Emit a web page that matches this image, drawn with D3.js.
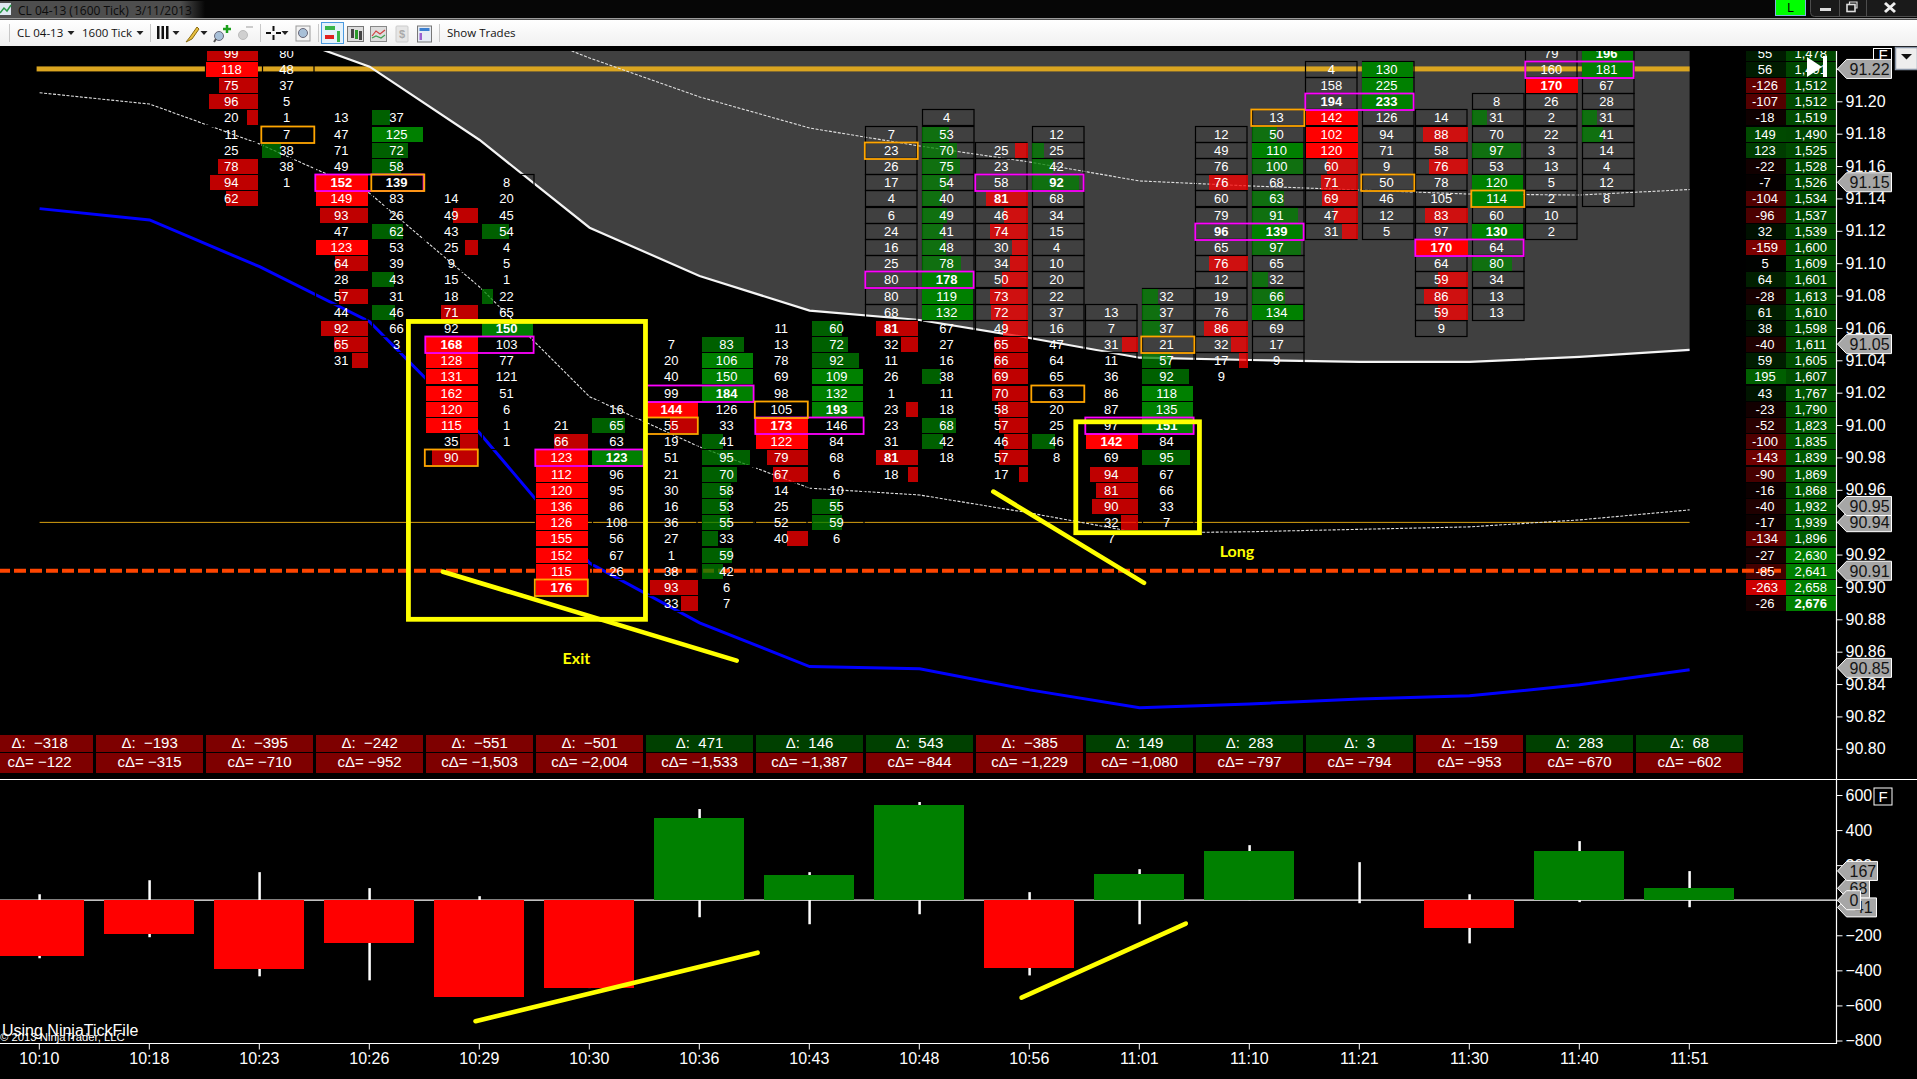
<!DOCTYPE html>
<html>
<head>
<meta charset="utf-8">
<script src="https://d3js.org/d3.v7.min.js"></script>
<style>
html,body{margin:0;padding:0;background:#000;overflow:hidden}
svg{display:block}
text{font-family:"Liberation Sans",Arial,sans-serif;white-space:pre}
</style>
</head>
<body>
<svg id="c" width="1917" height="1079"></svg>
<script>
// ---------- DATA ----------
const times = ["10:10","10:18","10:23","10:26","10:29","10:30","10:36","10:43","10:48","10:56","11:01","11:10","11:21","11:30","11:40","11:51"];
const delta = [-318,-193,-395,-242,-551,-501,471,146,543,-385,149,283,3,-159,283,68];
const cumDelta = [-122,-315,-710,-952,-1503,-2004,-1533,-1387,-844,-1229,-1080,-797,-794,-953,-670,-602];
const wickHigh = [34,114,160,69,23,0,520,160,560,46,177,314,217,34,337,166];
const wickLow = [-331,-211,-434,-457,-551,-501,-97,-137,-80,-429,-137,0,-17,-246,-11,-40];

const priceTicks = [91.22,91.20,91.18,91.16,91.14,91.12,91.10,91.08,91.06,91.04,91.02,91.00,90.98,90.96,90.94,90.92,90.90,90.88,90.86,90.84,90.82,90.80];
const deltaTicks = [600,400,200,0,-200,-400,-600,-800];
const priceFlags = [90.85,90.91,90.94,90.95,91.05,91.15];
const lastFlag = 91.22;
const deltaFlags = [-41,68,167,0];

const whileLineIdx = [2,3,4,5,6,7,8,9,10,11,12,13,14,15];
const whiteBand = [91.2459,91.2214,91.1761,91.1219,91.0921,91.0707,91.0649,91.0538,91.0416,91.0402,91.039,91.039,91.0421,91.0464];
const upperDotIdx = [4,5,6,7,8,9,10,11,12,13,14,15];
const upperDot = [91.2539,91.2267,91.2027,91.1835,91.1724,91.1625,91.1508,91.1477,91.1452,91.1427,91.1421,91.1455];
const lowerDot = [91.2053,91.1983,91.1736,91.1432,91.0853,91.0175,90.9865,90.961,90.9568,90.9457,90.9333,90.9341,90.9356,90.9371,90.9414,90.9476];
const blueLine = [91.1337,91.1267,91.0978,91.0639,90.9951,90.9148,90.8778,90.8508,90.8494,90.8364,90.8253,90.8277,90.8308,90.8327,90.8395,90.8488];

const goldLevel = 91.22, thinLevel = 90.94, dashLevel = 90.91;

// footprint: first price of each bar, then bid / ask volumes, one per tick going down.
// "*" = shaded volume bar, "!" = bold figure
const fpBars = [2,3,4,5,6,7,8,9,10,11,12,13,14];
const fpTop = [91.23,91.19,91.15,91.01,91.05,91.06,91.19,91.18,91.08,91.19,91.22,91.20,91.23];
const bid1023 = ["99*","118*","75*","96*","20*","11","25","78*","94*","62*"];
const ask1023 = ["80","48","37","5","1","7","38*","38","1",null];
const bid1026 = ["13","47","71","49","152*!","149*","93*","47","123*","64*","28","57*","44","92*","65*","31*"];
const ask1026 = ["37*","125*","72*","58*","139!","83","26","62*","53","39","43*","31","46*","66","3",null];
const bid1029 = [null,"14","49*","43","25*","9","15","18","71*","92","168*!","128*","131*","162*","120*","115*","35*","90*"];
const ask1029 = ["8","20","45","54*","4","5","1","22*","65","150*!","103","77","121","51","6","1","1",null];
const bid1030 = [null,"21","66*","123*","112*","120*","136*","126*","155*","152*","115*","176*!"];
const ask1030 = ["16","65*","63","123*!","96","95","86","108","56","67","26",null];
const bid1036 = ["7","20","40","99","144*!","55*","19","51","21","30","16","36","27","1","38","93*","33*"];
const ask1036 = ["83*","106*","150*","184*!","126","33","41*","95*","70*","58*","53*","55*","33*","59*","42*","6","7"];
const bid1043 = ["11","13","78","69","98","105","173*!","122*","79*","67*","14","25","52","40*"];
const ask1043 = ["60*","72*","92*","109*","132*","193*!","146","84","68","6","10","55*","59*","6"];
const bid1048 = [null,"7","23","26","17","4","6","24","16","25","80","80","68","81*!","32*","11","26","1","23*","23","31","81*!","18*"];
const ask1048 = ["4","53*","70*","75*","54*","40*","49*","41*","48*","78*","178*!","119*","132*","67","27","16","38*","11","18","68*","42*","18",null];
const bid1056 = [null,"25*","23","58","81*!","46*","74*","30*","34*","50*","73*","72*","49*","65*","66*","69*","70*","58*","57*","46*","57*","17*"];
const ask1056 = ["12","25*","42*","92*!","68","34","15","4","10","20","22","37","16","47","64","65","63","20","25","46*","8",null];
const bid1101 = [null,"13","7","31*","11","36","86","87","97","142*!","69","94*","81*","90*","32*","7"];
const ask1101 = ["32*","37*","37*","21","57*","92*","118*","135*","151*!","84","95*","67","66","33","7",null];
const bid1110 = [null,"12","49","76","76*","60","79","96!","65","76*","12","19","76","86*","32*","17*","9"];
const ask1110 = ["13","50*","110*","100*","68","63*","91*","139*!","97*","65","32*","66*","134*","69","17","9",null];
const bid1121 = ["4","158","194!","142*","102*","120*","60*","71*","69*","47*","31*"];
const ask1121 = ["130*","225*","233*!","126","94","71","9","50","46","12","5"];
const bid1130 = [null,"14","88*","58","76*","78","105","83*","97","170*!","64","59*","86*","59*","9"];
const ask1130 = ["8","31*","70","97*","53","120*","114*","60","130*!","64","80*","34","13","13",null];
const bid1140 = ["79","160","170*!","26","2","22","3","13","5","2","10","2"];
const ask1140 = ["196*!","181*","67","28","31*","41*","14","4","12","8",null,null];
const fpBids = [bid1023,bid1026,bid1029,bid1030,bid1036,bid1043,bid1048,bid1056,bid1101,bid1110,bid1121,bid1130,bid1140];
const fpAsks = [ask1023,ask1026,ask1029,ask1030,ask1036,ask1043,ask1048,ask1056,ask1101,ask1110,ask1121,ask1130,ask1140];

const pocIdx = [3,4,5,6,7,8,9,10,11,12,13,14];
const pocPrice = [91.15,91.05,90.98,91.02,91.00,91.09,91.15,91.00,91.12,91.20,91.11,91.22];
const hiIdx = [2,3,4,5,6,7,8,9,10,11,12,13];
const hiPrice = [91.18,91.15,90.98,90.90,91.00,91.01,91.17,91.02,91.05,91.19,91.15,91.14];
const hiSide = ["a","a","b","b","b","b","b","a","a","a","a","a"];

// right-hand profile, from the top price down
const profileTop = 91.23;
const profileDelta = [55,56,-126,-107,-18,149,123,-22,-7,-104,-96,32,-159,5,64,-28,61,38,-40,59,195,43,-23,-52,-100,-143,-90,-16,-40,-17,-134,-27,-85,-263,-26];
const profileVol = [1478,1491,1512,1512,1519,1490,1525,1528,1526,1534,1537,1539,1600,1609,1601,1613,1610,1598,1611,1605,1607,1767,1790,1823,1835,1839,1869,1868,1932,1939,1896,2630,2641,2658,2676];

// hand-drawn annotations, in bar index / price or delta units
const boxExit = [3.353,91.064,5.508,90.88];
const boxLong = [9.42,91.002,10.544,90.9335];
const stroke1 = [3.667,90.9094,6.337,90.8545];
const stroke2 = [8.67,90.9589,10.04,90.9025];
const stroke3 = [3.963,-690,6.527,-299];
const stroke4 = [8.927,-556,10.42,-133];
const noteExit = ["Exit",4.88,90.8525];
const noteLong = ["Long",10.885,90.9182];

// ---------- SCALES ----------
const svg = d3.select("#c");
const x = d3.scaleLinear().domain([0,15]).range([39.6,1689.6]);
const yP = d3.scaleLinear().domain([91.20,90.88]).range([101.3,619.3]);
const yD = d3.scaleLinear().domain([600,-800]).range([795,1040.5]);
const barW = d3.scaleLinear().domain([0,101]).range([0,51.5]).clamp(true);
const heatVol = d3.scaleLinear().domain([0,2676]).range([0,128]);
const heatPos = d3.scaleLinear().domain([0,263]).range([0,128]);
const heatNeg = d3.scaleLinear().domain([0,263]).range([0,205]);
const AXX = 1836.5;
const white = "#fff";
const px = v => Math.round(v);

// ---------- CHROME ----------
const defs = svg.append("defs");
const g1 = defs.append("linearGradient").attr("id","tglow").attr("x1",0).attr("x2",1).attr("y1",0).attr("y2",0);
g1.append("stop").attr("offset","0%").attr("stop-color","#4e4e4e");
g1.append("stop").attr("offset","88%").attr("stop-color","#4e4e4e");
g1.append("stop").attr("offset","100%").attr("stop-color","#060606");
const g2 = defs.append("linearGradient").attr("id","tb").attr("x1",0).attr("x2",0).attr("y1",0).attr("y2",1);
g2.append("stop").attr("offset","0%").attr("stop-color","#ffffff");
g2.append("stop").attr("offset","100%").attr("stop-color","#f0f0f0");
defs.append("clipPath").attr("id","panel").append("rect").attr("x",0).attr("y",51).attr("width",1917).attr("height",728);

svg.append("rect").attr("width",1917).attr("height",20).attr("fill","#060606");
svg.append("rect").attr("x",0).attr("y",1).attr("width",205).attr("height",17).attr("fill","url(#tglow)");
svg.append("rect").attr("x",0).attr("y",18).attr("width",1917).attr("height",1.5).attr("fill","#9a9a9a");
svg.append("text").attr("x",18).attr("y",14.5).attr("font-size",12).attr("fill","#0c0c0c")
  .style("font-family","'Open Sans',sans-serif").text("CL 04-13 (1600 Tick)  3/11/2013");
// title icon
svg.append("rect").attr("x",0).attr("y",3).attr("width",11).attr("height",12).attr("fill","#dfe8f2");
svg.append("path").attr("d","M0,13 L4,8 L7,11 L11,5").attr("fill","none").attr("stroke","#2a9a4a").attr("stroke-width",1.5);
// L button and window buttons
svg.append("rect").attr("x",1775.5).attr("y",-2).attr("width",30).attr("height",17.5).attr("fill","#00ff00").attr("stroke","#7fb0e0");
svg.append("text").attr("x",1790.5).attr("y",12).attr("text-anchor","middle").attr("font-size",12).attr("fill","#000").text("L");
svg.append("rect").attr("x",1810.5).attr("y",-4).attr("width",110).attr("height",20.5).attr("rx",4).attr("fill","#1a1a1a").attr("stroke","#4d4d4d");
[1839.5,1866.5].forEach(v=>svg.append("line").attr("x1",v).attr("x2",v).attr("y1",0).attr("y2",16).attr("stroke","#4d4d4d"));
svg.append("rect").attr("x",1820).attr("y",8).attr("width",11).attr("height",3).attr("fill","#ddd");
svg.append("rect").attr("x",1847).attr("y",4.5).attr("width",8).attr("height",7).attr("fill","none").attr("stroke","#ddd").attr("stroke-width",1.6);
svg.append("path").attr("d","M1849.5,4 V2 H1857 V8 H1855").attr("fill","none").attr("stroke","#ddd").attr("stroke-width",1.2);
svg.append("path").attr("d","M1885,3 L1895,12 M1895,3 L1885,12").attr("stroke","#eee").attr("stroke-width",3);

// toolbar
svg.append("rect").attr("x",0).attr("y",20).attr("width",1917).attr("height",26).attr("fill","url(#tb)");
[9,150,260,318,439].forEach(v=>svg.append("line").attr("x1",v+.5).attr("x2",v+.5).attr("y1",24).attr("y2",42).attr("stroke","#c8c8c8"));
const tbText = (t,xx)=>svg.append("text").attr("x",xx).attr("y",37).attr("font-size",11.5).attr("fill","#111").style("font-family","'Open Sans',sans-serif").text(t);
tbText("CL 04-13",17);tbText("1600 Tick",82);tbText("Show Trades",447);
[71,140,176,204,285].forEach(v=>svg.append("path").attr("d",`M${v-3.5},31 h7 l-3.5,4 z`).attr("fill","#222"));
[158,162.5,167].forEach(v=>svg.append("rect").attr("x",v-1).attr("y",26).attr("width",2.5).attr("height",13).attr("fill","#111"));
svg.append("path").attr("d","M186,42 L190,37 L197,27 L199,29 L192,39 Z").attr("fill","#e8c040").attr("stroke","#8a6a10");
svg.append("circle").attr("cx",219).attr("cy",36).attr("r",4.5).attr("fill","#a8c0d8").attr("stroke","#667");
svg.append("path").attr("d","M214,42 L216,39").attr("stroke","#555").attr("stroke-width",2);
svg.append("path").attr("d","M227,25 v8 M223,29 h8").attr("stroke","#1ca01c").attr("stroke-width",2.5);
svg.append("circle").attr("cx",243).attr("cy",35).attr("r",4.5).attr("fill","#d0d0d0").attr("stroke","#bbb");
svg.append("path").attr("d","M246,27 h7").attr("stroke","#ccc").attr("stroke-width",2);
svg.append("path").attr("d","M273.5,26 v5 M273.5,35 v5 M266,33 h5 M276,33 h5").attr("stroke","#111").attr("stroke-width",2);
svg.append("rect").attr("x",296).attr("y",26).attr("width",14).attr("height",15).attr("fill","#f3f3f3").attr("stroke","#999");
svg.append("circle").attr("cx",303).attr("cy",33).attr("r",4.5).attr("fill","#a8c0d8").attr("stroke","#667");
svg.append("rect").attr("x",321.5).attr("y",22.5).attr("width",22).attr("height",21).attr("fill","#e4f1fb").attr("stroke","#4a9ae0");
svg.append("rect").attr("x",325).attr("y",26).attr("width",10).attr("height",4).attr("fill","#39b54a");
svg.append("rect").attr("x",325).attr("y",35).attr("width",9).attr("height",4).attr("fill","#e02020");
svg.append("rect").attr("x",337).attr("y",31).attr("width",3).attr("height",11).attr("fill","#39b54a");
svg.append("rect").attr("x",347.5).attr("y",26.5).attr("width",16).attr("height",15).attr("fill","#ddd").attr("stroke","#777");
[351,355,359].forEach((v,i)=>{svg.append("rect").attr("x",v).attr("y",29+i).attr("width",3).attr("height",9).attr("fill",i==1?"#2a9a2a":"#444");});
svg.append("rect").attr("x",370.5).attr("y",26.5).attr("width",16).attr("height",15).attr("fill","#ddd").attr("stroke","#888");
svg.append("path").attr("d","M372,36 L376,31 L380,34 L385,30").attr("fill","none").attr("stroke","#d04040").attr("stroke-width",1.2);
svg.append("path").attr("d","M372,38 L376,36 L381,38 L385,35").attr("fill","none").attr("stroke","#40a050").attr("stroke-width",1.2);
svg.append("rect").attr("x",396).attr("y",26).attr("width",12).attr("height",16).attr("rx",1).attr("fill","#e6e6e6").attr("stroke","#ccc");
svg.append("text").attr("x",402).attr("y",38).attr("text-anchor","middle").attr("font-size",11).attr("font-weight","bold").attr("fill","#aaa").text("$");
svg.append("rect").attr("x",417.5).attr("y",26).attr("width",14).attr("height",16).attr("fill","#e6ecf5").attr("stroke","#777");
svg.append("rect").attr("x",419.5).attr("y",28).attr("width",10).attr("height",3).attr("fill","#3a7fd0");
svg.append("rect").attr("x",419.5).attr("y",33).attr("width",2.5).attr("height",7).attr("fill","#9a60d0");

// ---------- PRICE PANEL ----------
const panel = svg.append("g").attr("clip-path","url(#panel)");

// grey band above the white curve
panel.append("path").datum(whiteBand)
  .attr("fill","#404040")
  .attr("d",d3.area().x((d,i)=>x(whileLineIdx[i])).y0(0).y1(d=>yP(d)));

// profile columns (backgrounds)
const profile = profileDelta.map((d,i)=>({d,v:profileVol[i],p:profileTop-i*0.01}));
panel.selectAll(".pd").data(profile).join("rect")
  .attr("x",1746).attr("width",39.5).attr("y",d=>px(yP(d.p))-7.5).attr("height",15)
  .attr("fill",d=>d.d<0?d3.rgb(heatNeg(-d.d),0,0):d3.rgb(0,heatPos(d.d),0))
  .attr("shape-rendering","crispEdges");
panel.selectAll(".pv").data(profile).join("rect")
  .attr("x",1786).attr("width",49.5).attr("y",d=>px(yP(d.p))-7.5).attr("height",15)
  .attr("fill",d=>d3.rgb(0,heatVol(d.v),0))
  .attr("shape-rendering","crispEdges");

// level lines
panel.append("rect").attr("x",x(0)-3).attr("width",x(15)-x(0)+3).attr("y",yP(goldLevel)-2.5).attr("height",5).attr("fill","#daa520");
panel.append("line").attr("x1",x(0)).attr("x2",x(15)).attr("y1",yP(thinLevel)+.2).attr("y2",yP(thinLevel)+.2).attr("stroke","#d8a010").attr("stroke-width",1);

// band lines
const lineW = d3.line().x((d,i)=>x(whileLineIdx[i])).y(d=>yP(d));
const lineU = d3.line().x((d,i)=>x(upperDotIdx[i])).y(d=>yP(d));
const lineL = d3.line().x((d,i)=>x(i)).y(d=>yP(d));
panel.append("path").datum(whiteBand).attr("d",lineW).attr("fill","none").attr("stroke","#f4f4f4").attr("stroke-width",2.2);
panel.append("path").datum(upperDot).attr("d",lineU).attr("fill","none").attr("stroke","#e0e0e0").attr("stroke-width",1.1).attr("stroke-dasharray","3,1.5");
panel.append("path").datum(lowerDot).attr("d",lineL).attr("fill","none").attr("stroke","#e0e0e0").attr("stroke-width",1.1).attr("stroke-dasharray","3,1.5");
panel.append("path").datum(blueLine).attr("d",lineL).attr("fill","none").attr("stroke","#0000ff").attr("stroke-width",3);
panel.append("line").attr("x1",-2).attr("x2",1781).attr("y1",yP(dashLevel)).attr("y2",yP(dashLevel))
  .attr("stroke","#ff4500").attr("stroke-width",4).attr("stroke-dasharray","12,4");

// footprint cells
const parse = s => s==null?null:{v:+s.replace(/[*!]/g,""),shade:s.includes("*"),bold:s.includes("!")};
const cells = [];
fpBars.forEach((bi,k)=>{
  fpBids[k].forEach((s,r)=>{
    const c=parse(s); if(c) cells.push({...c,bi,side:"b",p:fpTop[k]-r*0.01});
    const a=parse(fpAsks[k][r]); if(a) cells.push({...a,bi,side:"a",p:fpTop[k]-r*0.01});
  });
});
const fillOf = c => {
  const col = c.side==="b"?"255,0,0":"0,128,0";
  return `rgba(${col},${c.v>100?1:0.75})`;
};
const cellG = panel.append("g");
cellG.selectAll(".out").data(cells).join("rect")
  .attr("x",d=>px(d.side==="b"?x(d.bi)-54.5:x(d.bi)+2)+.5).attr("width",51.5)
  .attr("y",d=>px(yP(d.p))-8+.5).attr("height",16)
  .attr("fill","none").attr("stroke","#000").attr("stroke-width",1.2);
cellG.selectAll(".bar").data(cells.filter(c=>c.shade)).join("rect")
  .attr("x",d=>d.side==="b"?x(d.bi)-2-barW(d.v):x(d.bi)+2)
  .attr("width",d=>barW(d.v))
  .attr("y",d=>px(yP(d.p))-7.5).attr("height",15)
  .attr("fill",fillOf).attr("shape-rendering","crispEdges");

// POC (magenta) and high-volume (orange) boxes
panel.selectAll(".poc").data(pocIdx).join("rect")
  .attr("x",d=>x(d)-54.3).attr("width",108.3)
  .attr("y",(d,i)=>px(yP(pocPrice[i]))-7.5).attr("height",16.5)
  .attr("fill","none").attr("stroke","#ff00ff").attr("stroke-width",1.8);
panel.selectAll(".hi").data(hiIdx).join("rect")
  .attr("x",(d,i)=>hiSide[i]==="b"?x(d)-54.8:x(d)+1.7).attr("width",53)
  .attr("y",(d,i)=>px(yP(hiPrice[i]))-7.5).attr("height",16.5)
  .attr("fill","none").attr("stroke","#ffa500").attr("stroke-width",1.8);

// footprint figures
panel.append("g").selectAll("text").data(cells).join("text")
  .attr("x",d=>d.side==="b"?x(d.bi)-28.3:x(d.bi)+27)
  .attr("y",d=>px(yP(d.p))+5)
  .attr("text-anchor","middle").attr("font-size",13)
  .attr("font-weight",d=>d.bold?"bold":"normal")
  .attr("fill",white).text(d=>d.v);

// profile figures
panel.selectAll(".ptd").data(profile).join("text")
  .attr("x",1765).attr("y",d=>px(yP(d.p))+5).attr("text-anchor","middle").attr("font-size",13).attr("fill",white)
  .text(d=>d.d);
panel.selectAll(".ptv").data(profile).join("text")
  .attr("x",1810.7).attr("y",d=>px(yP(d.p))+5).attr("text-anchor","middle").attr("font-size",13)
  .attr("font-weight",d=>d.v===2676?"bold":"normal").attr("fill",white)
  .text(d=>d3.format(",")(d.v));

// white play marker over the profile
panel.append("path").attr("d","M1807,57 L1822,67 L1807,77 Z").attr("fill",white);
panel.append("rect").attr("x",1823).attr("y",56).attr("width",4).attr("height",21).attr("fill",white);

// ---------- DELTA BOXES ----------
const dx = i => x(i)-53.5;
svg.selectAll(".dbox").data(delta).join("rect")
  .attr("x",(d,i)=>dx(i)).attr("width",107).attr("y",735).attr("height",17)
  .attr("fill",d=>d<0?"#7e0000":"#004000").attr("shape-rendering","crispEdges");
svg.selectAll(".cbox").data(cumDelta).join("rect")
  .attr("x",(d,i)=>dx(i)).attr("width",107).attr("y",753).attr("height",20)
  .attr("fill",d=>d<0?"#7e0000":"#004000").attr("shape-rendering","crispEdges");
svg.selectAll(".dtxt").data(delta).join("text")
  .attr("x",(d,i)=>x(i)).attr("y",747.5).attr("text-anchor","middle").attr("font-size",15).attr("fill",white)
  .text(d=>"Δ:  "+d3.format(",")(d));
svg.selectAll(".ctxt").data(cumDelta).join("text")
  .attr("x",(d,i)=>x(i)).attr("y",766.5).attr("text-anchor","middle").attr("font-size",15).attr("fill",white)
  .text(d=>"cΔ= "+d3.format(",")(d));

// ---------- LOWER PANEL ----------
svg.append("line").attr("x1",0).attr("x2",1837).attr("y1",yD(0)).attr("y2",yD(0)).attr("stroke",white).attr("stroke-width",1.2);
svg.selectAll(".wick").data(times).join("line")
  .attr("x1",(d,i)=>x(i)).attr("x2",(d,i)=>x(i))
  .attr("y1",(d,i)=>yD(wickHigh[i])).attr("y2",(d,i)=>yD(wickLow[i]))
  .attr("stroke",white).attr("stroke-width",2.5);
svg.selectAll(".cndl").data(delta).join("rect")
  .attr("x",(d,i)=>x(i)-45.5).attr("width",90)
  .attr("y",d=>Math.min(yD(d),yD(0))).attr("height",d=>Math.abs(yD(d)-yD(0)))
  .attr("fill",d=>d<0?"#ff0000":"#008000").attr("shape-rendering","crispEdges");

svg.append("text").attr("x",2).attr("y",1036).attr("font-size",16).attr("fill",white).text("Using NinjaTickFile");
svg.append("text").attr("x",0).attr("y",1041).attr("font-size",11.3).attr("fill",white).text("© 2013 NinjaTrader, LLC");

// frame lines
svg.append("line").attr("x1",0).attr("x2",1917).attr("y1",779.5).attr("y2",779.5).attr("stroke",white).attr("stroke-width",1.2);
svg.append("line").attr("x1",0).attr("x2",AXX).attr("y1",1043.5).attr("y2",1043.5).attr("stroke",white).attr("stroke-width",1.2);
svg.append("line").attr("x1",AXX).attr("x2",AXX).attr("y1",51).attr("y2",1044).attr("stroke",white).attr("stroke-width",1.2);

// axes
const styleAxis = g => {
  g.select(".domain").remove();
  g.selectAll("line").attr("stroke",white).attr("stroke-width",1);
  g.selectAll("text").attr("fill",white).attr("font-size",16).style("font-family","'Liberation Sans',Arial,sans-serif");
};
svg.append("g").attr("transform","translate(-0.8,1043.5)")
  .call(d3.axisBottom(x).tickValues(d3.range(16)).tickFormat(i=>times[i]).tickSize(6).tickPadding(3))
  .call(styleAxis);
svg.append("g").attr("transform",`translate(${AXX},0)`)
  .call(d3.axisRight(yP).tickValues(priceTicks).tickFormat(d3.format(".2f")).tickSize(6).tickPadding(3))
  .call(styleAxis);
svg.append("g").attr("transform",`translate(${AXX},0)`)
  .call(d3.axisRight(yD).tickValues(deltaTicks).tickSize(6).tickPadding(3))
  .call(styleAxis);

// axis value flags
const flag = (yy,label,w) => {
  const g = svg.append("g");
  const L = AXX+1, T = L+9, R = T+w;
  g.append("path").attr("d",`M${T},${yy-9.5} H${R} V${yy+9.5} H${T} L${L},${yy} Z`)
    .attr("fill","#a6a6a6").attr("stroke",white).attr("stroke-width",1);
  g.append("text").attr("x",T+3).attr("y",yy+6).attr("font-size",16).attr("fill","#141414").text(label);
};
priceFlags.forEach(p=>flag(yP(p),p.toFixed(2),45));
const deltaFlagW = {"-41":30,"68":23,"167":31,"0":14};
deltaFlags.forEach(v=>flag(yD(v),String(v),deltaFlagW[v]));

// F markers and drop-down
svg.append("rect").attr("x",1874).attr("y",788).attr("width",18).attr("height",17).attr("fill","#000").attr("stroke",white);
svg.append("text").attr("x",1883).attr("y",802).attr("text-anchor","middle").attr("font-size",15).attr("fill",white).text("F");
svg.append("rect").attr("x",1873.5).attr("y",48.5).attr("width",18).attr("height",14).attr("fill","#000").attr("stroke",white);
svg.append("text").attr("x",1883).attr("y",60).attr("text-anchor","middle").attr("font-size",15).attr("fill",white).text("F");
flag(yP(lastFlag),lastFlag.toFixed(2),45);
svg.append("rect").attr("x",1895.5).attr("y",47.5).attr("width",22).attr("height",22).attr("fill","#eeeeee").attr("stroke","#8a96a8").attr("stroke-width",1.5);
svg.append("path").attr("d","M1901,54 h11 l-5.5,5.5 z").attr("fill","#111");

// ---------- ANNOTATIONS ----------
const yel = "#ffff00";
const box = (b,sw)=>svg.append("rect").attr("x",x(b[0])).attr("y",yP(b[1])).attr("width",x(b[2])-x(b[0])).attr("height",yP(b[3])-yP(b[1]))
  .attr("fill","none").attr("stroke",yel).attr("stroke-width",sw);
box(boxExit,4.8); box(boxLong,4.8);
const seg = (s,yS)=>svg.append("line").attr("x1",x(s[0])).attr("y1",yS(s[1])).attr("x2",x(s[2])).attr("y2",yS(s[3]))
  .attr("stroke",yel).attr("stroke-width",4.6).attr("stroke-linecap","round");
seg(stroke1,yP); seg(stroke2,yP); seg(stroke3,yD); seg(stroke4,yD);
[noteExit,noteLong].forEach(n=>svg.append("text").attr("x",x(n[1])).attr("y",yP(n[2])).attr("text-anchor","middle")
  .attr("font-size",16).attr("font-weight","bold").attr("fill",yel).style("font-family","Lato,sans-serif").text(n[0]));
</script>
</body>
</html>
